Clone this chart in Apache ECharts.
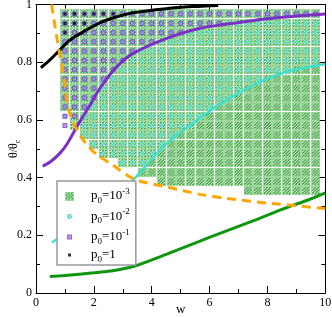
<!DOCTYPE html>
<html><head><meta charset="utf-8">
<script src="https://cdn.jsdelivr.net/npm/echarts/dist/echarts.min.js"></script>
<style>html,body{margin:0;padding:0;background:#fff}#c{width:332px;height:317px}</style>
</head><body><div id="c"></div>
<script>
// ---- data ----
const xTicks = [0, 2, 4, 6, 8, 10];
const yTicks = [0, 0.2, 0.4, 0.6, 0.8, 1];
const colsX = [1,1.33,1.67,2,2.33,2.67,3,3.33,3.67,4,4.33,4.67,5,5.33,5.67,6,6.33,6.67,7,7.33,7.67,8,8.33,8.67,9,9.33,9.67];
const rowsY = [0.968,0.935,0.903,0.871,0.839,0.806,0.774,0.742,0.710,0.677,0.645,0.613,0.581,0.548,0.516,0.484,0.452,0.419,0.387,0.355];
// hex flags per cell: 1 = p0=1e-3, 2 = p0=1e-2, 4 = p0=1e-1, 8 = p0=1
const cellMap = [
"FFFFFF777777777777777777777",
"FFF777777777777773333333333",
"F77777777777733333333333333",
"777777777733333333333333333",
"777777773333333333333333333",
"777777733333333333333333333",
"777777333333333333333333111",
"777773333333333333333111111",
"777733333333333333311111111",
"777733333333333333111111111",
"777333333333333311111111111",
"673333333333333111111111111",
"433333333333331111111111111",
"003333333333111111111111111",
"000333333331111111111111111",
"000033333311111111111111111",
"000000333111111111111111111",
"000000001111111111111111111",
"000000000011111111111111111",
"000000000000000000011111111"
];
const seriesNames = ['p0=10^-3', 'p0=10^-2', 'p0=10^-1', 'p0=1'];
const legendExp = ['-3', '-2', '-1', ''];
const blackCurve = [[0.17,0.781],[0.48,0.808],[0.77,0.837],[1.17,0.877],[1.64,0.906],[2.2,0.937],[2.8,0.958],[3.36,0.972],[4.5,0.986],[5.4,0.993],[6.3,0.997]];
const purpleCurve = [[0.23,0.44],[0.5,0.455],[0.83,0.485],[1.06,0.515],[1.29,0.555],[1.55,0.6],[1.87,0.652],[2.21,0.71],[2.79,0.785],[3.36,0.831],[4.52,0.883],[5.67,0.918],[6.36,0.929],[8.09,0.952],[10,0.967]];
const cyanCurve = [[0.55,0.175],[0.7,0.185],[1.5,0.23],[2.5,0.31],[3.36,0.392],[4.52,0.519],[5.67,0.607],[6.36,0.655],[7.51,0.721],[8.67,0.767],[10,0.794]];
const greenCurve = [[0.48,0.057],[1,0.061],[2,0.07],[2.56,0.076],[3.36,0.092],[4.52,0.135],[5.67,0.18],[6.36,0.207],[7.5,0.25],[8.5,0.29],[9.47,0.325],[10,0.347]];
const orangeCurve = [[0.54,1.0],[0.7,0.9],[0.85,0.81],[1.0,0.725],[1.1,0.65],[1.25,0.6],[1.45,0.56],[1.75,0.515],[2.1,0.48],[2.56,0.45],[3.4,0.395],[4.52,0.368],[5.67,0.342],[6.59,0.328],[8.09,0.311],[10,0.293]];

// ---- marker images ----
function makeMarker(kind){
  const c=document.createElement('canvas'); c.width=9; c.height=9;
  const g=c.getContext('2d');
  const px=(x,y,col)=>{g.fillStyle=col; g.fillRect(x,y,1,1);};
  if(kind===0){
    g.fillStyle='#86cf86'; g.fillRect(0,0,9,9);
    for(let y=1;y<8;y++)for(let x=1;x<8;x++) px(x,y,((x+y)%3===0)?'#ffffff':'#0a8f0a');
  } else if(kind===1){
    for(let y=2;y<7;y++)for(let x=2;x<7;x++) px(x,y,((x-y+9)%3===0)?'#ffffff':'#26d8c6');
  } else if(kind===2){
    g.fillStyle='#7b3fc4'; g.fillRect(2,2,5,5); g.fillStyle='#a97ce0'; g.fillRect(3,3,3,3);
  } else {
    g.fillStyle='#000'; g.fillRect(3,3,3,3);
  }
  return 'image://'+c.toDataURL();
}
const syms=[0,1,2,3].map(makeMarker);
const bits=[1,2,4,8];
const cellData=[[],[],[],[]];
rowsY.forEach((y,j)=>{
  const row=cellMap[j];
  colsX.forEach((x,k)=>{
    const v=parseInt(row[k]||'0',16);
    for(let s=0;s<4;s++) if(v&bits[s]) cellData[s].push([x,y]);
  });
});

const font='Liberation Serif';
const chart=echarts.init(document.getElementById('c'),null,{renderer:'canvas'});
const axisCommon={min:0,type:'value',splitLine:{show:false},
  axisLine:{show:true,onZero:false,lineStyle:{color:'#000',width:1}},
  axisTick:{show:true,inside:true,length:7,lineStyle:{color:'#000'}},
  minorTick:{show:true,splitNumber:2,length:4,lineStyle:{color:'#000'}}};
const series=[];
for(let s=0;s<4;s++){
  series.push({type:'scatter',name:seriesNames[s],data:cellData[s],symbol:syms[s],symbolSize:9,silent:true,z:2});
}
const lineDef=[[blackCurve,'#000000',3,'solid'],[purpleCurve,'#7b2fc6',3,'solid'],[cyanCurve,'#40e0d0',2.5,'solid'],[greenCurve,'#0f960f',3,'solid'],[orangeCurve,'#ffa500',3,[9,6]]];
lineDef.forEach(d=>series.push({type:'line',data:d[0],showSymbol:false,symbol:'none',smooth:0.3,z:3,silent:true,
  lineStyle:{color:d[1],width:d[2],type:d[3]}}));

chart.setOption({
  animation:false,
  grid:{left:36,right:6.7,top:4.6,bottom:24,containLabel:false,outerBoundsMode:'none'},
  xAxis:[
    Object.assign({},axisCommon,{max:10,interval:2,position:'bottom',
      name:'w',nameLocation:'middle',nameGap:10,nameMoveOverlap:false,nameTextStyle:{fontFamily:font,fontSize:13,color:'#000'},
      axisLabel:{margin:4,fontFamily:font,fontSize:12,color:'#000',formatter:v=>xTicks.includes(v)?String(v):''}}),
    Object.assign({},axisCommon,{max:10,interval:2,position:'top',axisLabel:{show:false}})
  ],
  yAxis:[
    Object.assign({},axisCommon,{max:1,interval:0.2,position:'left',
      name:'{a|θ/θ}{s|c}',nameLocation:'middle',nameGap:14,nameMoveOverlap:false,
      nameTextStyle:{fontFamily:font,fontSize:12,color:'#000',rich:{a:{fontFamily:font,fontSize:12,lineHeight:16,color:'#000'},s:{fontFamily:font,fontSize:8,lineHeight:11,verticalAlign:'bottom',color:'#000'}}},
      axisLabel:{margin:4,fontFamily:font,fontSize:12,color:'#000',formatter:v=>{const r=Math.round(v*10)/10;return yTicks.includes(r)?String(r):'';}}}),
    Object.assign({},axisCommon,{max:1,interval:0.2,position:'right',axisLabel:{show:false}})
  ],
  legend:{
    orient:'vertical',left:57,top:181,padding:[6,6,1,8],itemGap:2.5,itemWidth:9,itemHeight:9,
    backgroundColor:'#fff',borderColor:'#999',borderWidth:1.5,borderRadius:0,
    data:seriesNames.map((n,i)=>({name:n,icon:syms[i]})),
    formatter:function(name){const i=seriesNames.indexOf(name);return '{sp| }{p|p}{sub|0}{p|=1'+(legendExp[i]?'0':'')+'}'+(legendExp[i]?'{sup|'+legendExp[i]+'}':'');},
    textStyle:{fontFamily:font,fontSize:13,color:'#000',rich:{
      sp:{width:12,fontSize:13,lineHeight:18},
      p:{fontFamily:font,fontSize:13,lineHeight:18,color:'#000'},
      sub:{fontFamily:font,fontSize:9,lineHeight:13,verticalAlign:'bottom',color:'#000'},
      sup:{fontFamily:font,fontSize:9,lineHeight:11,verticalAlign:'top',color:'#000'}}},
    selectedMode:false
  },
  series:series
});
</script></body></html>
